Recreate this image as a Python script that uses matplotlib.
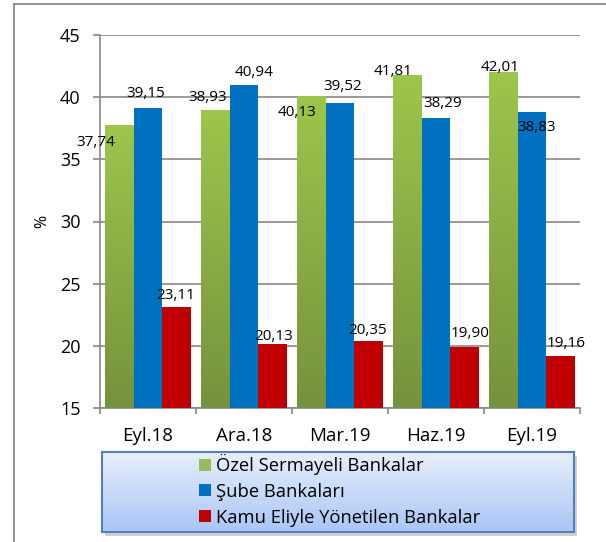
import matplotlib
matplotlib.use('Agg')
import matplotlib.pyplot as plt
import numpy as np
from matplotlib.lines import Line2D
from matplotlib.patches import Rectangle
from matplotlib.colors import LinearSegmentedColormap

plt.rcParams['font.family'] = ['Open Sans', 'DejaVu Sans']

categories = ['Eyl.18', 'Ara.18', 'Mar.19', 'Haz.19', 'Eyl.19']
ozel = [37.74, 38.93, 40.13, 41.81, 42.01]
sube = [39.15, 40.94, 39.52, 38.29, 38.83]
kamu = [23.11, 20.13, 20.35, 19.90, 19.16]
series_names = ['Özel Sermayeli Bankalar', 'Şube Bankaları', 'Kamu Eliyle Yönetilen Bankalar']
yticks = [15, 20, 25, 30, 35, 40, 45]

# label offsets in pixels (style only)
off_ozel = [(-23.5, -17), (-7.5, 13), (-14, -16.5), (-14, 3), (-3, 5)]
off_sube = [(-2.5, 14), (10.5, 13), (2.5, 17), (7, 15), (5, -16)]
off_kamu = [(-1.5, 12), (0.5, 8), (-1.5, 10.5), (5.5, 14), (5.5, 13)]

W, H = 606, 542
fig = plt.figure(figsize=(W / 100, H / 100), dpi=100)
ax = fig.add_axes([100 / W, 1 - 408 / H, 480 / W, 373 / H])

x = np.arange(len(categories))
bw = 0.302
green, blue, red = '#9bbb59', '#0070c0', '#c00000'

b1 = ax.bar(x - bw, ozel, bw, color=green, zorder=3)
b2 = ax.bar(x, sube, bw, color=blue, zorder=3)
b3 = ax.bar(x + bw, kamu, bw, color=red, zorder=3)

ax.set_ylim(15, 45)
ax.set_xlim(-0.5, len(categories) - 0.5)

# gradient on green bars
gcmap = LinearSegmentedColormap.from_list('g', ['#76923c', '#9dc64b'])
grad = np.linspace(0, 1, 256).reshape(-1, 1)
for p in b1.patches:
    x0, w, h = p.get_x(), p.get_width(), p.get_height()
    im = ax.imshow(grad, cmap=gcmap, aspect='auto', origin='lower',
                   extent=[x0, x0 + w, 15, h], zorder=3.5)
    im.set_clip_path(p)

def fmt(v):
    return f"{v:.2f}".replace('.', ',')

for bars, vals, offs in [(b1, ozel, off_ozel), (b2, sube, off_sube), (b3, kamu, off_kamu)]:
    for p, v, (dx, dy) in zip(bars.patches, vals, offs):
        ax.annotate(fmt(v), xy=(p.get_x() + p.get_width() / 2, v),
                    xytext=(dx, dy), textcoords='offset pixels',
                    ha='center', va='center', fontsize=11, color='#000000', zorder=5)

gridc = '#878787'
ax.set_yticks(yticks)
ax.set_yticklabels([str(t) for t in yticks], fontsize=13)
ax.yaxis.grid(True, color=gridc, lw=1.2, zorder=1)
ax.set_axisbelow(True)
ax.tick_params(axis='y', direction='out', length=5, width=1.2, color=gridc, pad=9)

ax.set_xticks(x)
ax.set_xticklabels(categories, fontsize=13.5)
ax.set_xticks(np.arange(-0.5, len(categories)), minor=True)
ax.tick_params(axis='x', which='major', length=0, pad=14)
ax.tick_params(axis='x', which='minor', direction='out', length=4, width=1.2, color=gridc)

for s in ['top', 'right']:
    ax.spines[s].set_visible(False)
for s in ['left', 'bottom']:
    ax.spines[s].set_color(gridc)
    ax.spines[s].set_linewidth(1.2)

ax.set_ylabel('%', fontsize=11.5)
ax.yaxis.set_label_coords(-0.104, 0.5)

# outer frame
fig.add_artist(Line2D([14 / W, 14 / W], [0, 1 - 4 / H], transform=fig.transFigure,
                      color='#8a8a8a', lw=1.3))
fig.add_artist(Line2D([14 / W, 1], [1 - 4 / H, 1 - 4 / H], transform=fig.transFigure,
                      color='#8a8a8a', lw=1.3))

# legend box with gradient and shadow
shadow = Rectangle((105 / W, 1 - 536 / H), 472 / W, 80 / H, transform=fig.transFigure,
                   facecolor='#b0b0b0', edgecolor='none', alpha=0.6, zorder=-2)
fig.add_artist(shadow)
lax = fig.add_axes([102 / W, 1 - 532 / H, 472 / W, 80 / H])
lcmap = LinearSegmentedColormap.from_list('l', ['#a9c6f6', '#e8effb'])
lax.imshow(grad, cmap=lcmap, aspect='auto', origin='lower', extent=[0, 1, 0, 1])
lax.set_xticks([])
lax.set_yticks([])
for s in lax.spines.values():
    s.set_color('#4f81bd')
    s.set_linewidth(1.5)
lax.set_zorder(-1)

leg = ax.legend([b1, b2, b3], series_names, loc='upper left',
                bbox_to_anchor=(199 / W, 1 - 454 / H), bbox_transform=fig.transFigure,
                frameon=False, fontsize=13.2, handlelength=0.63, handleheight=0.63,
                handletextpad=0.3, labelspacing=0.43, borderpad=0, borderaxespad=0)

fig.savefig('out.png', dpi=100)
